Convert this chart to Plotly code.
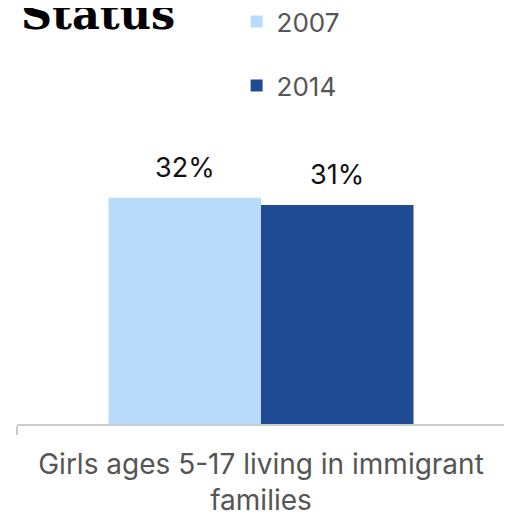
import plotly.graph_objs as go

categories = ["Girls ages 5-17 living in immigrant<br>families"]
years = ["2007", "2014"]
values_2007 = [32]
values_2014 = [31]
colors = ["#b9dbfb", "#1f4a94"]

font_family = "Inter, Roboto, sans-serif"

traces = []
for i, (yr, vals) in enumerate(zip(years, [values_2007, values_2014])):
    traces.append(go.Bar(
        name=yr,
        x=categories,
        y=vals,
        marker=dict(color=colors[i], line=dict(width=0)),
        legendgroup=yr,
        hoverinfo="skip",
    ))

fig = go.Figure(data=traces)

# value labels above bars (bar centres at +/- half a bar width)
annotations = []
offsets = [-0.15625, 0.15625]
for i, vals in enumerate([values_2007, values_2014]):
    for cat, v in zip(categories, vals):
        annotations.append(dict(
            x=offsets[i], y=v, xref="x", yref="y",
            text="{}%".format(v), showarrow=False,
            yanchor="bottom", yshift=12,
            font=dict(size=27, color="#111111", family=font_family),
        ))

# cut-off title
annotations.append(dict(
    x=0.004, y=1, xref="paper", yref="paper",
    text="<b>Status</b>", showarrow=False,
    xanchor="left", yanchor="bottom", yshift=77,
    font=dict(size=43, color="#000000", family="DejaVu Serif"),
))

fig.update_layout(
    width=512, height=517,
    margin=dict(l=9, r=15, t=110, b=101, autoexpand=False),
    paper_bgcolor="white", plot_bgcolor="white",
    barmode="group", bargap=0.375, bargroupgap=0,
    showlegend=True,
    legend=dict(
        x=0.45, y=1.3915, xanchor="left", yanchor="top",
        font=dict(size=26, color="#555555", family=font_family),
        tracegroupgap=27, bgcolor="rgba(0,0,0,0)",
    ),
    xaxis=dict(
        type="category", range=[-0.5, 0.5], automargin=False,
        showline=True, linecolor="#cccccc", linewidth=2,
        ticks="outside", tickson="boundaries", ticklen=9, tickcolor="#cccccc", tickwidth=2,
        ticklabelstandoff=14,
        tickfont=dict(size=28, color="#555555", family=font_family),
        showgrid=False, zeroline=False,
    ),
    yaxis=dict(range=[0, 43.3], visible=False, showgrid=False, zeroline=False),
    annotations=annotations,
)

fig.write_html("out.html")
